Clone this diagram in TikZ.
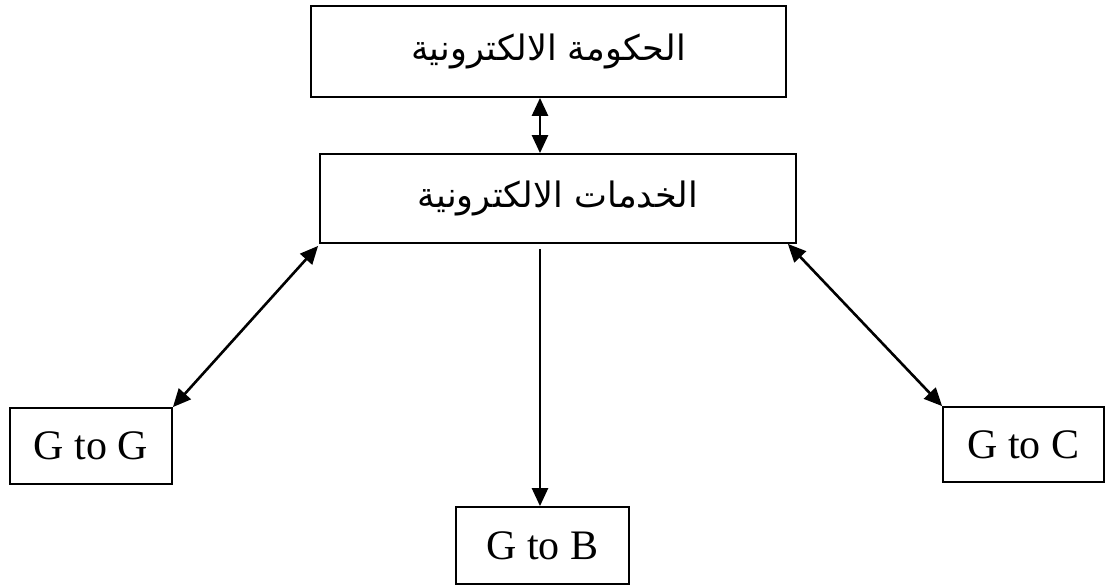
\documentclass[tikz,border=0pt]{standalone}
\usepackage{fontspec}
\setmainfont{Liberation Serif}
\newfontfamily\arabicfont[Script=Arabic]{DejaVu Sans}
\TeXXeTstate=1
\usetikzlibrary{arrows.meta}
\tikzset{
  box/.style={draw, line width=0.9pt, inner sep=0pt, anchor=center},
  arbox/.style={box, font=\arabicfont\fontsize{17.5}{20}\selectfont},
  lbox/.style={box, font=\fontsize{21}{24}\selectfont},
  tip/.style={Triangle[length=9pt,width=8pt]},
  conn/.style={line width=1.3pt, {Triangle[length=9pt,width=8pt]}-{Triangle[length=9pt,width=8pt]}},
  oneway/.style={line width=1.3pt, -{Triangle[length=9pt,width=8pt]}}
}
\begin{document}
\begin{tikzpicture}[x=0.5pt,y=-0.5pt]
\useasboundingbox (0,0) rectangle (1105,585);
\node[arbox, minimum width=237.5pt, minimum height=45.5pt] (gov) at (548.5,51.5) {\beginR الحكومة الالكترونية\endR};
\node[arbox, minimum width=238pt, minimum height=44.5pt] (serv) at (558,198.5) {\beginR الخدمات الالكترونية\endR};
\node[lbox, minimum width=81pt, minimum height=38pt] (gg) at (91,446) {G to G};
\node[lbox, minimum width=86.5pt, minimum height=38.5pt] (gb) at (542.5,545.5) {G to B};
\node[lbox, minimum width=80.5pt, minimum height=37.5pt] (gc) at (1023.5,444.5) {G to C};
\draw[conn] (gov.south -| 540,0) -- (serv.north -| 540,0);
\draw[oneway] ([yshift=-2.5pt]serv.south -| 540,0) -- (gb.north -| 540,0);
\draw[conn] ([xshift=-0.5pt,yshift=-1pt]serv.south west) -- (gg.north east);
\draw[conn] ([xshift=-4.5pt]serv.south east) -- (gc.north west);
\end{tikzpicture}
\end{document}
